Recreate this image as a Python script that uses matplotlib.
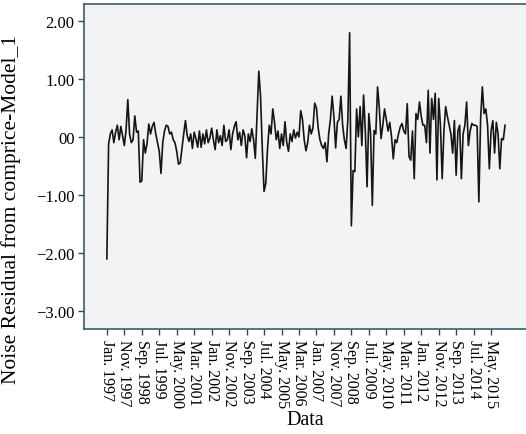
import matplotlib.pyplot as plt

# residuals per month, Jan 1997 .. Jan 2016
residuals=[
    -2.10,-0.12,0.05,0.12,-0.10,0.08,0.20,-0.05,0.18,0.02,
    -0.15,0.12,0.64,0.05,-0.10,-0.05,0.36,0.08,0.10,-0.78,
    -0.76,-0.05,-0.28,-0.12,0.22,0.05,0.18,0.25,0.05,-0.10,
    -0.25,-0.63,-0.10,0.10,0.20,0.18,0.05,0.08,-0.05,-0.10,
    -0.25,-0.47,-0.45,-0.20,0.05,0.28,0.02,-0.08,0.05,-0.20,
    0.08,-0.03,-0.18,0.10,-0.18,0.05,-0.12,0.12,-0.10,-0.02,
    0.15,-0.05,-0.22,0.12,-0.10,0.02,-0.15,0.20,-0.08,-0.05,
    0.12,-0.22,0.05,0.18,0.26,-0.05,0.08,-0.15,0.12,0.02,
    -0.36,0.05,-0.08,0.14,-0.05,-0.37,0.40,1.13,0.70,-0.20,
    -0.94,-0.80,-0.20,0.20,0.05,0.48,0.25,-0.05,0.10,-0.20,
    0.05,-0.15,0.26,-0.10,-0.25,0.05,-0.08,0.12,-0.02,0.08,
    0.00,0.45,0.30,-0.05,-0.24,-0.10,0.20,0.05,0.15,0.58,
    0.50,0.15,-0.05,-0.15,-0.20,-0.10,-0.43,0.05,0.30,0.70,
    0.35,-0.19,0.25,0.30,0.70,0.20,-0.05,-0.20,0.30,1.79,
    -1.53,-0.58,-0.60,0.48,0.00,0.52,-0.15,0.72,0.10,-0.86,
    0.40,0.05,-1.18,0.11,0.05,0.86,0.50,-0.03,0.20,0.48,
    0.30,0.10,0.25,0.00,-0.38,-0.05,-0.10,0.05,0.17,0.23,
    0.10,0.05,0.57,-0.34,-0.40,0.10,-0.72,0.40,0.30,0.60,
    0.35,0.20,0.20,-0.10,0.80,-0.28,0.66,0.30,0.75,-0.74,
    0.66,0.20,-0.72,0.10,0.52,0.35,0.20,0.05,-0.28,0.28,
    -0.66,0.10,0.20,-0.72,0.05,0.20,0.60,-0.15,0.10,0.23,
    0.20,0.20,0.18,-1.12,0.30,0.86,0.40,0.48,0.20,-0.55,
    0.10,0.28,-0.28,0.25,0.05,-0.55,-0.03,-0.05,0.20
]

date_labels=["Jan. 1997","Nov. 1997","Sep. 1998","Jul. 1999","May. 2000",
             "Mar. 2001","Jan. 2002","Nov. 2002","Sep. 2003","Jul. 2004",
             "May. 2005","Mar. 2006","Jan. 2007","Nov. 2007","Sep. 2008",
             "Jul. 2009","May. 2010","Mar. 2011","Jan. 2012","Nov. 2012",
             "Sep. 2013","Jul. 2014","May. 2015"]
y_ticks=[2,1,0,-1,-2,-3]
y_labels=["2.00","1.00","00","\u22121.00","\u22122.00","\u22123.00"]

plt.rcParams["font.family"]=["Liberation Serif","DejaVu Serif"]

fig=plt.figure(figsize=(5.26,4.35),dpi=100)
ax=fig.add_axes([0.16,0.241,0.84,0.748])
ax.set_facecolor("#f1f3f4")

months=list(range(len(residuals)))
ax.plot(months,residuals,color="#151515",linewidth=1.2)

ax.set_xlim(-13,240)
ax.set_ylim(-3.31,2.29)

ax.set_xticks(range(0,10*len(date_labels),10))
ax.set_xticklabels(date_labels,rotation=-90,fontsize=11.5)
ax.set_yticks(y_ticks)
ax.set_yticklabels(y_labels,fontsize=12)
ax.tick_params(direction="out",length=4,width=1,color="#2e4a52",pad=3)

for s in ["left","bottom","top"]:
    ax.spines[s].set_color("#3c5c66")
    ax.spines[s].set_linewidth(1.2)
ax.spines["right"].set_visible(False)

ax.set_xlabel("Data",fontsize=14.5,labelpad=2)
ax.set_ylabel("Noise Residual from comprice-Model_1",fontsize=15.5)
# label sits lower than the axes centre in the original
ax.yaxis.set_label_coords(-0.143,0.37)

fig.savefig("out.png",dpi=100)
